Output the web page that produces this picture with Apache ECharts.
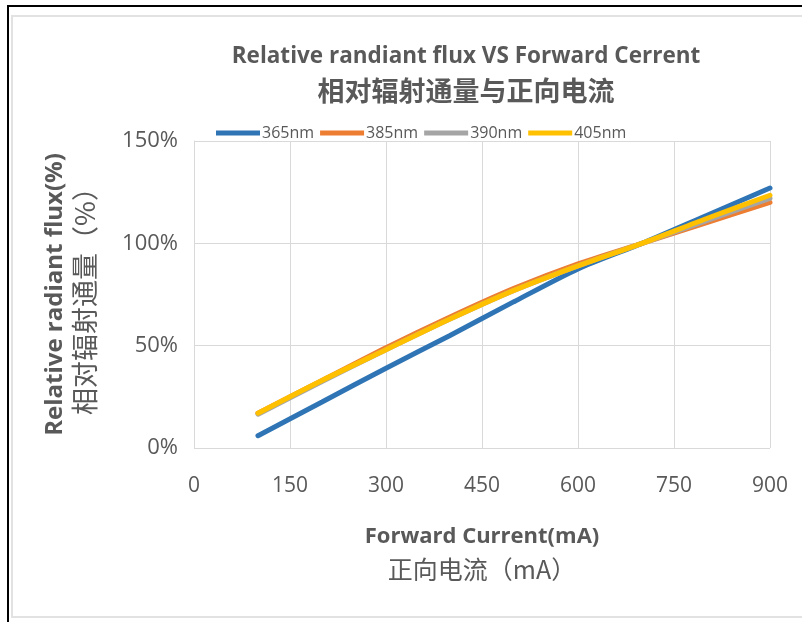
<!DOCTYPE html>
<html><head><meta charset="utf-8">
<script src="https://cdn.jsdelivr.net/npm/echarts@6/dist/echarts.min.js"></script>
<style>
html,body{margin:0;padding:0;background:#fff;}
#frame{position:absolute;left:7px;top:5px;width:800px;height:620px;border-left:2px solid #000;border-top:2px solid #000;}
#inner{position:absolute;left:11px;top:15px;width:800px;height:599px;border:2px solid #e2e2e2;}
#main{position:absolute;left:0;top:0;width:802px;height:622px;}
</style></head>
<body>
<div id="frame"></div>
<div id="inner"></div>
<div id="main"></div>
<script>
const currents = [100, 200, 300, 400, 500, 600, 700, 800, 900];
const seriesNames = ['365nm', '385nm', '390nm', '405nm'];
const flux365 = [6, 22.5, 39, 55, 71.5, 87.5, 100, 113.5, 127];
const flux385 = [17, 33, 49, 64, 78, 90, 100, 110, 120];
const flux390 = [16.5, 32.5, 48, 63, 77, 89, 100, 111, 122];
const flux405 = [17, 33, 48, 63, 77, 89, 100, 112, 123.5];
const xTicks = [0, 150, 300, 450, 600, 750, 900];
const yTicks = [0, 50, 100, 150];
const titleLines = ['Relative randiant flux VS Forward Cerrent', '相对辐射通量与正向电流'];
const xNameLines = ['Forward Current(mA)', '正向电流（mA）'];
const yNameLines = ['Relative radiant flux(%)', '相对辐射通量（%）'];

const colors = ['#2F75B5', '#ED7D31', '#A5A5A5', '#FFC000'];
const allData = [flux365, flux385, flux390, flux405];
const chart = echarts.init(document.getElementById('main'));
const txt = '#595959';
chart.setOption({
  backgroundColor: 'transparent',
  color: colors,
  animation: false,
  title: {
    text: '{a|' + titleLines[0] + '}\n{b|' + titleLines[1] + '}',
    left: 461, top: 36, textAlign: 'center',
    textStyle: {
      rich: {
        a: {fontSize: 22.5, fontWeight: 'bold', color: txt, fontFamily: 'Open Sans', lineHeight: 32},
        b: {fontSize: 27, color: txt, fontFamily: 'Noto Sans CJK SC', lineHeight: 36}
      }
    }
  },
  legend: {
    data: seriesNames,
    top: 120, left: 211,
    itemWidth: 44, itemHeight: 5, itemGap: 6,
    icon: 'rect',
    textStyle: {fontSize: 16, color: txt, fontFamily: 'Open Sans', padding: [0, 0, 0, -3]}
  },
  grid: {left: 194, right: 32, top: 141, bottom: 174},
  xAxis: {
    type: 'value', min: 0, max: 900, interval: 150,
    name: '{a|' + xNameLines[0] + '}\n{b|' + xNameLines[1] + '}',
    nameLocation: 'middle', nameGap: 72,
    nameTextStyle: {
      rich: {
        a: {fontSize: 22, fontWeight: 'bold', color: txt, fontFamily: 'Open Sans', lineHeight: 33},
        b: {fontSize: 25, color: txt, fontFamily: 'Noto Sans CJK SC', lineHeight: 33}
      }
    },
    axisLine: {show: false},
    axisTick: {show: false},
    axisLabel: {fontSize: 21, color: txt, margin: 28, fontFamily: 'Open Sans'},
    splitLine: {show: true, lineStyle: {color: '#d9d9d9', width: 1}}
  },
  yAxis: {
    type: 'value', min: 0, max: 150, interval: 50,
    name: '{a|' + yNameLines[0] + '}\n{b|' + yNameLines[1] + '}',
    nameLocation: 'middle', nameGap: 94, nameRotate: 90,
    nameTextStyle: {
      rich: {
        a: {fontSize: 24, fontWeight: 'bold', color: txt, fontFamily: 'Open Sans', lineHeight: 30},
        b: {fontSize: 27, color: txt, fontFamily: 'Noto Sans CJK SC', lineHeight: 30}
      }
    },
    axisLine: {show: true, lineStyle: {color: '#d9d9d9'}},
    axisTick: {show: false},
    axisLabel: {fontSize: 22, color: txt, margin: 16, fontFamily: 'Open Sans', formatter: v => v + '%'},
    splitLine: {show: true, lineStyle: {color: '#d9d9d9', width: 1}}
  },
  series: seriesNames.map((n, i) => ({
    name: n, type: 'line', smooth: 0.25, showSymbol: false,
    lineStyle: {width: 5, cap: 'round'},
    data: currents.map((c, j) => [c, allData[i][j]])
  }))
});
</script>
</body></html>
